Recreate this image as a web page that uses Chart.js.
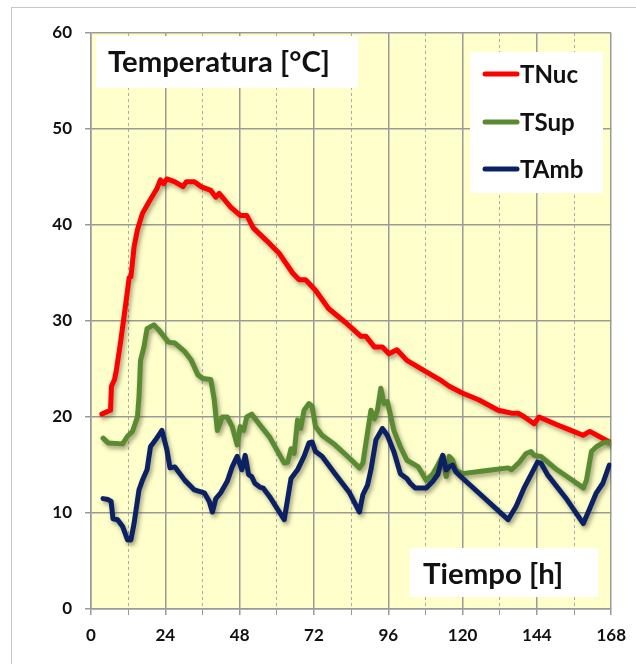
<!DOCTYPE html>
<html lang="es">
<head>
<meta charset="UTF-8">
<title>Temperatura</title>
<script src="https://cdn.jsdelivr.net/npm/chart.js"></script>
<style>
  body { margin: 0; background: #fff; }
  .frame { position: absolute; left: 11px; top: 7px; width: 700px; height: 700px; border: 1px solid #c6c6c6; }
  .wrap { position: absolute; left: 0; top: 0; width: 636px; height: 664px; }
</style>
</head>
<body>
<div class="frame"></div>
<div class="wrap"><canvas id="chart" width="636" height="664"></canvas></div>
<script>
// horas y temperaturas
const nucHours = [3.5, 5.5, 6.3, 6.6, 7.6, 8.2, 9.5, 10.8, 11.8, 12.3, 12.9, 13.9, 15.0, 16.6, 18.7, 21.3, 22.4, 23.4, 24.5, 27.1,
  29.7, 30.8, 33.4, 35.5, 38.7, 40.3, 41.4, 45.0, 48.2, 50.3, 52.4, 56.6, 60.9, 65.1, 67.2, 69.3, 72.5, 76.7, 82.0, 87.2,
  88.8, 91.5, 94.1, 96.2, 98.8, 102.0, 108.3, 112.6, 115.7, 119.9, 125.2, 131.5, 135.8, 137.9, 140.0, 143.1, 144.7, 150.5, 155.8, 158.9,
  161.1, 167.4];
const nucTemps = [20.3, 20.6, 20.7, 23.2, 23.9, 24.9, 27.7, 30.8, 33.2, 34.5, 34.6, 37.7, 39.5, 41.2, 42.4, 43.8, 44.7, 44.3, 44.8, 44.5,
  44.0, 44.5, 44.5, 44.0, 43.6, 42.9, 43.3, 41.9, 41.0, 41.0, 39.7, 38.4, 37.0, 35.0, 34.3, 34.3, 33.2, 31.3, 29.9, 28.4,
  28.4, 27.3, 27.3, 26.6, 27.0, 25.9, 24.7, 23.9, 23.2, 22.5, 21.8, 20.7, 20.4, 20.4, 20.0, 19.3, 20.0, 19.2, 18.5, 18.1,
  18.5, 17.4];

const supHours = [3.9, 5.5, 10.2, 11.8, 13.4, 15.0, 15.5, 16.0, 17.1, 18.1, 20.3, 21.8, 25.0, 27.1, 30.3, 32.4, 34.5, 36.1, 38.7, 39.8,
  40.8, 42.4, 44.0, 45.6, 47.2, 48.2, 49.3, 50.3, 51.9, 54.5, 57.7, 62.4, 63.5, 64.6, 65.6, 66.7, 67.7, 68.8, 70.4, 71.4,
  72.5, 74.6, 78.8, 83.5, 86.7, 87.8, 90.4, 91.5, 92.5, 93.6, 94.6, 95.7, 96.7, 97.8, 99.9, 102.0, 103.1, 105.7, 108.3, 110.4,
  112.0, 113.6, 114.7, 115.7, 116.8, 117.8, 119.9, 127.3, 134.7, 135.8, 138.4, 140.5, 142.1, 143.1, 145.3, 150.5, 156.9, 159.0, 160.0, 161.6,
  163.2, 165.3, 166.9, 168.0];
const supTemps = [17.8, 17.3, 17.2, 18.0, 18.5, 20.0, 22.1, 25.9, 27.3, 29.2, 29.6, 29.1, 27.8, 27.7, 26.8, 25.9, 24.4, 24.0, 23.9, 21.8,
  18.6, 20.0, 20.0, 19.0, 17.1, 19.0, 18.6, 20.0, 20.3, 19.2, 17.9, 15.2, 15.3, 16.7, 16.2, 19.7, 18.8, 20.7, 21.4, 21.1,
  19.0, 18.1, 17.1, 15.7, 14.7, 15.2, 20.7, 19.8, 20.7, 23.0, 21.4, 21.6, 20.2, 18.6, 16.9, 15.5, 15.3, 14.8, 13.4, 14.1,
  15.0, 16.0, 13.8, 15.9, 15.5, 14.5, 14.1, 14.4, 14.7, 14.5, 15.3, 16.2, 16.4, 16.0, 15.9, 14.5, 13.1, 12.6, 13.4, 16.4,
  16.9, 17.3, 17.4, 17.2];

const ambHours = [3.9, 5.5, 6.5, 7.1, 8.6, 10.2, 11.8, 12.9, 13.9, 15.5, 16.6, 18.1, 19.2, 20.8, 22.9, 24.5, 25.5, 27.1, 30.3, 33.4,
  36.6, 38.2, 39.2, 40.3, 41.9, 44.0, 45.6, 47.2, 48.7, 49.8, 50.9, 51.9, 52.9, 54.5, 55.6, 57.7, 62.4, 64.6, 66.7, 68.8,
  70.4, 71.4, 72.5, 74.6, 78.8, 83.5, 86.7, 87.8, 89.3, 90.4, 92.0, 94.1, 95.7, 97.8, 99.9, 102.0, 103.1, 104.7, 108.3, 110.4,
  112.0, 113.6, 114.7, 115.7, 116.8, 117.8, 119.4, 134.7, 137.3, 140.0, 142.1, 144.2, 145.3, 147.4, 153.7, 159.0, 161.1, 163.2, 165.3, 167.4];
const ambTemps = [11.5, 11.4, 11.2, 9.4, 9.3, 8.6, 7.2, 7.2, 8.9, 12.4, 13.4, 14.5, 16.9, 17.6, 18.6, 16.6, 14.7, 14.8, 13.4, 12.4,
  12.1, 11.2, 10.1, 11.5, 12.1, 13.3, 14.8, 15.9, 14.5, 16.0, 14.0, 13.8, 13.1, 12.7, 12.6, 11.7, 9.3, 13.6, 14.5, 15.9,
  17.3, 17.4, 16.4, 15.9, 14.1, 12.1, 10.1, 11.9, 12.9, 14.5, 17.6, 18.8, 18.1, 16.4, 14.1, 13.6, 13.1, 12.6, 12.6, 13.3,
  14.0, 16.0, 14.5, 14.8, 15.0, 14.3, 13.8, 9.3, 10.7, 12.7, 14.0, 15.3, 15.2, 14.0, 11.4, 8.9, 10.5, 12.1, 13.1, 15.0];

const seriesNames = ['TNuc', 'TSup', 'TAmb'];
const seriesColors = ['#ff0000', '#5a8a32', '#0c2064'];
const xTicks = [0, 24, 48, 72, 96, 120, 144, 168];
const yTicks = [0, 10, 20, 30, 40, 50, 60];

const FONT = 'Lato, "Open Sans", sans-serif';
const toPoints = (hs, ts) => hs.map((h, i) => ({ x: h, y: ts[i] }));

// fondo amarillo del area de trazado
const plotBg = {
  id: 'plotBg',
  beforeDraw(chart) {
    const { ctx, chartArea: a } = chart;
    ctx.save();
    ctx.fillStyle = '#ffffcc';
    ctx.fillRect(a.left, a.top, a.right - a.left, a.bottom - a.top);
    ctx.restore();
  }
};

// sombra bajo las curvas
const lineShadow = {
  id: 'lineShadow',
  beforeDatasetsDraw(chart) {
    const c = chart.ctx;
    c.save();
    c.shadowColor = 'rgba(70,70,40,0.5)';
    c.shadowBlur = 4;
    c.shadowOffsetX = 2;
    c.shadowOffsetY = 3;
  },
  afterDatasetsDraw(chart) { chart.ctx.restore(); }
};

function fitFont(ctx, text, width) {
  ctx.font = 'bold 100px ' + FONT;
  const size = 100 * width / ctx.measureText(text).width;
  return 'bold ' + size.toFixed(1) + 'px ' + FONT;
}

// cajas blancas: titulo, leyenda y eje x
const boxes = {
  id: 'boxes',
  afterDraw(chart) {
    const ctx = chart.ctx;
    ctx.save();
    ctx.fillStyle = '#fff';
    ctx.fillRect(96, 36, 262, 52);
    ctx.fillRect(470, 52, 133, 141);
    ctx.fillRect(410, 548, 188, 49);

    ctx.fillStyle = '#111';
    ctx.textBaseline = 'alphabetic';
    ctx.font = fitFont(ctx, 'Temperatura [°C]', 222);
    ctx.fillText('Temperatura [°C]', 108, 72);
    ctx.font = fitFont(ctx, 'Tiempo [h]', 140);
    ctx.fillText('Tiempo [h]', 423, 584);

    const legFont = fitFont(ctx, 'TNuc', 58);
    const rows = [74, 122, 169];
    chart.data.datasets.forEach((ds, i) => {
      const y = rows[i];
      ctx.strokeStyle = ds.borderColor;
      ctx.lineWidth = 5;
      ctx.lineCap = 'round';
      ctx.beginPath();
      ctx.moveTo(485, y);
      ctx.lineTo(517, y);
      ctx.stroke();
      ctx.font = legFont;
      ctx.fillStyle = '#111';
      ctx.fillText(ds.label, 520, y + 9);
    });
    ctx.restore();
  }
};

const tickFont = { family: FONT, size: 17, weight: 'bold' };

new Chart(document.getElementById('chart'), {
  type: 'line',
  data: {
    datasets: [
      { label: seriesNames[0], data: toPoints(nucHours, nucTemps), borderColor: seriesColors[0], order: 2 },
      { label: seriesNames[1], data: toPoints(supHours, supTemps), borderColor: seriesColors[1], order: 1 },
      { label: seriesNames[2], data: toPoints(ambHours, ambTemps), borderColor: seriesColors[2], order: 0 }
    ]
  },
  options: {
    responsive: false,
    animation: false,
    layout: { padding: { top: 33, right: 14, left: 0, bottom: 0 } },
    elements: {
      point: { radius: 0 },
      line: { borderWidth: 5, tension: 0, borderJoinStyle: 'round', borderCapStyle: 'round', fill: false }
    },
    plugins: { legend: { display: false }, tooltip: { enabled: false } },
    scales: {
      x: {
        type: 'linear', min: 0, max: 168,
        ticks: {
          stepSize: 12, autoSkip: false, maxRotation: 0, padding: 10,
          color: '#111', font: tickFont,
          callback: v => xTicks.includes(v) ? v : ''
        },
        grid: {
          color: c => c.tick && c.tick.value % 24 ? '#ababab' : '#9a9a9a',
          lineWidth: c => c.tick && c.tick.value % 24 ? 1 : 1.5,
          tickLength: 6, tickColor: '#9a9a9a'
        },
        border: { display: true, color: '#9a9a9a', width: 1.5, dash: c => c.tick && c.tick.value % 24 ? [3, 3] : [] },
        afterFit: s => { s.height = 55; }
      },
      y: {
        min: 0, max: 60,
        afterBuildTicks: s => { s.ticks = yTicks.map(v => ({ value: v })); },
        ticks: { padding: 13, color: '#111', font: tickFont },
        grid: { color: '#9a9a9a', lineWidth: 1.5, tickLength: 6, tickColor: '#9a9a9a' },
        border: { display: true, color: '#9a9a9a', width: 1.5 },
        afterFit: s => { s.width = 91; }
      }
    }
  },
  plugins: [plotBg, lineShadow, boxes]
});
</script>
</body>
</html>
